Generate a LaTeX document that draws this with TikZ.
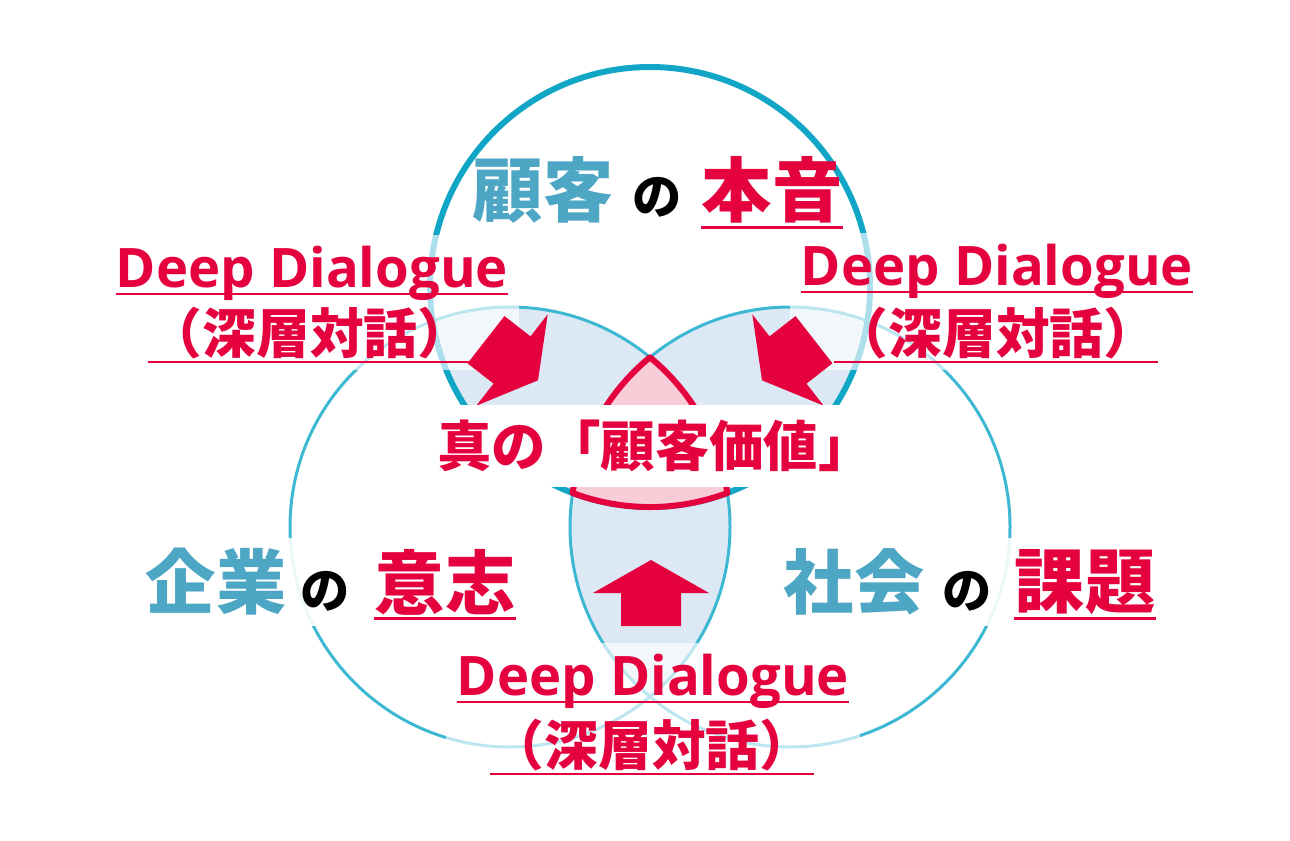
\documentclass[tikz,border=0pt]{standalone}
\usepackage{fontspec}
\newfontfamily\jpfont{Noto Sans CJK JP}
\newfontfamily\enfont{Open Sans}
\usetikzlibrary{calc,fit,positioning}
\definecolor{ddRed}{HTML}{E5003E}
\definecolor{ddTeal}{HTML}{4DA6C4}
\definecolor{ringTeal}{HTML}{12A6C6}
\definecolor{ringLight}{HTML}{3DB8D2}
\definecolor{lensFill}{HTML}{DCE9F5}
\definecolor{coreFill}{HTML}{F9CDD8}
\pgfdeclarelayer{back}
\pgfdeclarelayer{veil}
\pgfsetlayers{back,veil,main}

\begin{document}
\begin{tikzpicture}[x=0.02cm, y=0.02cm,
    ring/.style={draw=ringLight, line width=1.7pt},
    ringtop/.style={draw=ringTeal, line width=3.4pt},
    lens/.style={fill=lensFill},
    core/.style={fill=coreFill, draw=ddRed, line width=3.4pt, line join=round},
    push/.style={fill=ddRed},
    keyword/.style={inner sep=0pt, font=\jpfont\bfseries\fontsize{40}{40}\selectfont},
    who/.style={keyword, text=ddTeal},
    what/.style={keyword, text=ddRed},
    joint/.style={inner sep=0pt, text=black, font=\jpfont\bfseries\fontsize{28}{28}\selectfont},
    dialogue/.style={inner sep=0pt, anchor=base, text=ddRed, font=\enfont\bfseries\fontsize{31}{31}\selectfont},
    gloss/.style={inner sep=0pt, text=ddRed, font=\jpfont\bfseries\fontsize{30.6}{31}\selectfont},
    uline/.style={draw=ddRed, line width=1.6pt},
    veil/.style={fill=white, fill opacity=0.65, inner sep=6pt},
    band/.style={fill=white, inner sep=0pt, minimum width=9cm, minimum height=1.66cm, text=ddRed, font=\jpfont\bfseries\fontsize{31}{31}\selectfont}
  ]
  \useasboundingbox (0,0) rectangle (1290,840);
  \coordinate (cT) at (650,553);
  \coordinate (cL) at (510,313);
  \coordinate (cR) at (790,313);
  \coordinate (p1) at ($(cL)+(50.5:220)$);

  % three circles
  \begin{pgfonlayer}{back}
    \begin{scope}
      \clip (cT) circle[radius=220];
      \fill[lens] (cL) circle[radius=220] (cR) circle[radius=220];
    \end{scope}
    \begin{scope}
      \clip (cL) circle[radius=220];
      \fill[lens] (cR) circle[radius=220];
    \end{scope}
    \draw[ring] (cL) circle[radius=220];
    \draw[ring] (cR) circle[radius=220];
    \draw[ringtop] (cT) circle[radius=220];
    \filldraw[core] (p1) arc[start angle=50.5, end angle=8.9, radius=220]
      arc[start angle=-69.4, end angle=-110.6, radius=220]
      arc[start angle=171.1, end angle=129.5, radius=220] -- cycle;
  \end{pgfonlayer}

  % arrows into the centre
  \foreach \x/\y/\a in {512/480/-128, 788/480/128, 651/247/0}
    \fill[push, shift={(\x,\y)}, rotate=\a] (0,33) -- (58,0) -- (30,0) -- (30,-33) -- (-30,-33) -- (-30,0) -- (-58,0) -- cycle;

  \node[band] (truth) at (655,394) {真の「顧客価値」};

  \node[who] (kokyaku) at (543,650) {顧客};
  \node[joint] (no1) at (657,643) {の};
  \node[what] (honne) at (772,650) {本音};

  \node[who] (kigyou) at (216,258) {企業};
  \node[joint] (no2) at (325,249) {の};
  \node[what] (ishi) at (445,258) {意志};

  \node[who] (shakai) at (854,258) {社会};
  \node[joint] (no3) at (967,249) {の};
  \node[what] (kadai) at (1085,258) {課題};

  \node[dialogue] (dlL) at (312,553) {Deep Dialogue};
  \node[gloss] (glL) at (310,507) {（深層対話）};
  \node[dialogue] (dlR) at (997,555) {Deep Dialogue};
  \node[gloss] (glR) at (996,507) {（深層対話）};
  \node[dialogue] (dlB) at (653,145) {Deep Dialogue};
  \node[gloss] (glB) at (652,95) {（深層対話）};

  \begin{pgfonlayer}{veil}
    \node[veil, fit=(dlL)(glL)] (veilL) {};
    \node[veil, fit=(dlR)(glR)] (veilR) {};
    \node[veil, fit=(dlB)(glB)] (veilB) {};
    \node[veil, fill opacity=0.9, fit=(kigyou)(ishi)] (veilK) {};
    \node[veil, fill opacity=0.9, fit=(shakai)(kadai)] (veilS) {};
  \end{pgfonlayer}

  % underlines
  \draw[uline] ([yshift=-2pt]honne.south west) -- ([yshift=-2pt]honne.south east);
  \draw[uline] ([yshift=-2pt]ishi.south west) -- ([yshift=-2pt]ishi.south east);
  \draw[uline] ([yshift=-2pt]kadai.south west) -- ([yshift=-2pt]kadai.south east);
  \draw[uline] ([yshift=-4pt]dlL.base west) -- ([yshift=-4pt]dlL.base east);
  \draw[uline] ([yshift=-1.5pt]glL.south west) -- ([yshift=-1.5pt]glL.south east);
  \draw[uline] ([yshift=-4pt]dlR.base west) -- ([yshift=-4pt]dlR.base east);
  \draw[uline] ([yshift=-1.5pt]glR.south west) -- ([yshift=-1.5pt]glR.south east);
  \draw[uline] ([yshift=-4pt]dlB.base west) -- ([yshift=-4pt]dlB.base east);
  \draw[uline] ([yshift=-1.5pt]glB.south west) -- ([yshift=-1.5pt]glB.south east);
\end{tikzpicture}
\end{document}
